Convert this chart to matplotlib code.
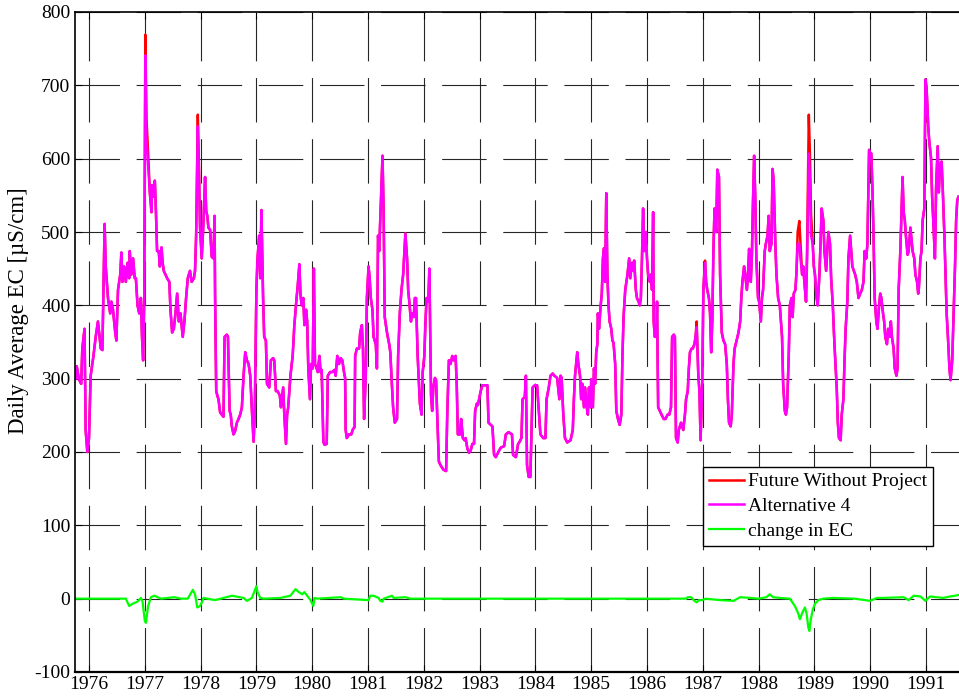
import matplotlib
matplotlib.use("Agg")
import matplotlib.pyplot as plt

# decimal years / daily average EC (Alternative 4)
alt4_dates = [
    1975.76, 1975.78, 1975.82, 1975.86, 1975.88, 1975.92, 1975.94, 1975.97, 1976.00, 1976.03,
    1976.08, 1976.12, 1976.16, 1976.19, 1976.21, 1976.24, 1976.26, 1976.28, 1976.30, 1976.34,
    1976.38, 1976.40, 1976.43, 1976.47, 1976.49, 1976.52, 1976.56, 1976.58, 1976.60, 1976.63,
    1976.66, 1976.69, 1976.72, 1976.73, 1976.76, 1976.79, 1976.82, 1976.84, 1976.87, 1976.90,
    1976.93, 1976.95, 1976.97, 1976.99, 1977.01, 1977.03, 1977.06, 1977.09, 1977.12, 1977.13,
    1977.15, 1977.18, 1977.20, 1977.22, 1977.25, 1977.27, 1977.30, 1977.32, 1977.34, 1977.37,
    1977.40, 1977.44, 1977.46, 1977.49, 1977.52, 1977.55, 1977.58, 1977.61, 1977.64, 1977.68,
    1977.71, 1977.74, 1977.77, 1977.81, 1977.84, 1977.88, 1977.90, 1977.92, 1977.95, 1977.97,
    1977.99, 1978.02, 1978.05, 1978.08, 1978.10, 1978.12, 1978.14, 1978.17, 1978.20, 1978.23,
    1978.25, 1978.26, 1978.28, 1978.30, 1978.32, 1978.35, 1978.38, 1978.41, 1978.43, 1978.47,
    1978.49, 1978.52, 1978.54, 1978.56, 1978.59, 1978.62, 1978.65, 1978.68, 1978.71, 1978.74,
    1978.77, 1978.80, 1978.83, 1978.86, 1978.89, 1978.92, 1978.95, 1978.97, 1979.00, 1979.02,
    1979.05, 1979.07, 1979.09, 1979.12, 1979.14, 1979.17, 1979.19, 1979.23, 1979.26, 1979.30,
    1979.32, 1979.35, 1979.38, 1979.42, 1979.44, 1979.48, 1979.50, 1979.53, 1979.55, 1979.57,
    1979.61, 1979.65, 1979.68, 1979.72, 1979.74, 1979.77, 1979.79, 1979.81, 1979.84, 1979.86,
    1979.89, 1979.91, 1979.93, 1979.96, 1979.98, 1980.01, 1980.03, 1980.05, 1980.08, 1980.10,
    1980.13, 1980.15, 1980.17, 1980.20, 1980.22, 1980.26, 1980.28, 1980.32, 1980.36, 1980.40,
    1980.42, 1980.45, 1980.48, 1980.51, 1980.54, 1980.57, 1980.59, 1980.60, 1980.62, 1980.66,
    1980.70, 1980.73, 1980.76, 1980.77, 1980.80, 1980.84, 1980.86, 1980.89, 1980.91, 1980.93,
    1980.96, 1980.98, 1981.01, 1981.03, 1981.05, 1981.08, 1981.10, 1981.14, 1981.16, 1981.18,
    1981.20, 1981.23, 1981.26, 1981.28, 1981.30, 1981.34, 1981.38, 1981.40, 1981.42, 1981.45,
    1981.48, 1981.52, 1981.54, 1981.57, 1981.60, 1981.63, 1981.65, 1981.67, 1981.70, 1981.72,
    1981.74, 1981.77, 1981.79, 1981.82, 1981.84, 1981.86, 1981.89, 1981.91, 1981.93, 1981.96,
    1981.98, 1982.01, 1982.03, 1982.05, 1982.08, 1982.10, 1982.13, 1982.15, 1982.17, 1982.20,
    1982.22, 1982.24, 1982.27, 1982.30, 1982.35, 1982.40, 1982.42, 1982.45, 1982.48, 1982.51,
    1982.54, 1982.57, 1982.59, 1982.61, 1982.65, 1982.67, 1982.70, 1982.73, 1982.75, 1982.78,
    1982.81, 1982.84, 1982.87, 1982.90, 1982.92, 1982.95, 1982.97, 1983.02, 1983.05, 1983.14,
    1983.16, 1983.20, 1983.23, 1983.26, 1983.29, 1983.33, 1983.35, 1983.38, 1983.44, 1983.47,
    1983.52, 1983.58, 1983.60, 1983.65, 1983.69, 1983.71, 1983.75, 1983.77, 1983.81, 1983.83,
    1983.85, 1983.88, 1983.91, 1983.95, 1983.99, 1984.03, 1984.09, 1984.14, 1984.18, 1984.20,
    1984.24, 1984.27, 1984.31, 1984.34, 1984.39, 1984.43, 1984.45, 1984.47, 1984.50, 1984.53,
    1984.57, 1984.63, 1984.67, 1984.69, 1984.71, 1984.75, 1984.77, 1984.80, 1984.82, 1984.84,
    1984.87, 1984.89, 1984.92, 1984.94, 1984.96, 1984.99, 1985.00, 1985.03, 1985.05, 1985.07,
    1985.09, 1985.11, 1985.12, 1985.14, 1985.17, 1985.19, 1985.21, 1985.23, 1985.25, 1985.27,
    1985.29, 1985.31, 1985.33, 1985.36, 1985.38, 1985.40, 1985.43, 1985.45, 1985.48, 1985.51,
    1985.54, 1985.56, 1985.58, 1985.61, 1985.63, 1985.65, 1985.68, 1985.70, 1985.73, 1985.75,
    1985.77, 1985.80, 1985.82, 1985.85, 1985.87, 1985.89, 1985.91, 1985.93, 1985.95, 1985.98,
    1986.00, 1986.02, 1986.05, 1986.07, 1986.09, 1986.11, 1986.12, 1986.14, 1986.17, 1986.18,
    1986.20, 1986.23, 1986.26, 1986.30, 1986.33, 1986.37, 1986.40, 1986.43, 1986.45, 1986.48,
    1986.50, 1986.52, 1986.55, 1986.57, 1986.61, 1986.63, 1986.65, 1986.68, 1986.70, 1986.73,
    1986.75, 1986.77, 1986.80, 1986.82, 1986.85, 1986.87, 1986.89, 1986.92, 1986.94, 1986.96,
    1986.99, 1987.01, 1987.04, 1987.06, 1987.08, 1987.11, 1987.13, 1987.15, 1987.17, 1987.19,
    1987.21, 1987.24, 1987.26, 1987.29, 1987.31, 1987.34, 1987.37, 1987.40, 1987.43, 1987.45,
    1987.47, 1987.50, 1987.52, 1987.55, 1987.57, 1987.59, 1987.62, 1987.64, 1987.67, 1987.69,
    1987.71, 1987.74, 1987.76, 1987.79, 1987.81, 1987.83, 1987.86, 1987.88, 1987.90, 1987.92,
    1987.94, 1987.96, 1987.99, 1988.01, 1988.04, 1988.06, 1988.08, 1988.11, 1988.13, 1988.16,
    1988.18, 1988.20, 1988.23, 1988.25, 1988.27, 1988.30, 1988.32, 1988.35, 1988.38, 1988.42,
    1988.44, 1988.47, 1988.49, 1988.51, 1988.54, 1988.56, 1988.59, 1988.61, 1988.63, 1988.66,
    1988.68, 1988.70, 1988.73, 1988.75, 1988.78, 1988.80, 1988.82, 1988.85, 1988.87, 1988.90,
    1988.92, 1988.94, 1988.97, 1988.99, 1989.01, 1989.04, 1989.06, 1989.09, 1989.11, 1989.13,
    1989.16, 1989.18, 1989.21, 1989.23, 1989.25, 1989.28, 1989.30, 1989.33, 1989.35, 1989.37,
    1989.40, 1989.42, 1989.44, 1989.47, 1989.49, 1989.52, 1989.54, 1989.56, 1989.59, 1989.61,
    1989.64, 1989.66, 1989.68, 1989.73, 1989.76, 1989.79, 1989.82, 1989.85, 1989.88, 1989.90,
    1989.93, 1989.95, 1989.98, 1990.00, 1990.02, 1990.04, 1990.06, 1990.08, 1990.11, 1990.13,
    1990.16, 1990.18, 1990.20, 1990.23, 1990.25, 1990.27, 1990.30, 1990.32, 1990.35, 1990.37,
    1990.39, 1990.42, 1990.44, 1990.47, 1990.49, 1990.51, 1990.54, 1990.56, 1990.58, 1990.60,
    1990.62, 1990.64, 1990.67, 1990.69, 1990.72, 1990.74, 1990.76, 1990.79, 1990.81, 1990.84,
    1990.86, 1990.87, 1990.90, 1990.92, 1990.94, 1990.97, 1990.98, 1990.99, 1991.01, 1991.04,
    1991.06, 1991.09, 1991.11, 1991.13, 1991.16, 1991.17, 1991.18, 1991.21, 1991.23, 1991.25,
    1991.28, 1991.30, 1991.33, 1991.35, 1991.37, 1991.40, 1991.42, 1991.44, 1991.47, 1991.49,
    1991.52, 1991.54, 1991.56, 1991.58,
]
alt4_ec = [
    300, 317, 299, 293, 341, 368, 230, 200, 219, 304,
    331, 357, 378, 357, 341, 339, 426, 511, 453, 410,
    389, 405, 394, 363, 352, 421, 442, 472, 432, 453,
    432, 458, 437, 474, 442, 464, 437, 437, 400, 389,
    410, 357, 325, 410, 741, 628, 591, 554, 527, 564,
    548, 570, 527, 474, 474, 453, 479, 458, 447, 442,
    437, 432, 394, 363, 368, 389, 416, 378, 389, 357,
    378, 410, 437, 447, 432, 437, 447, 495, 644, 581,
    506, 464, 511, 575, 529, 522, 506, 503, 466, 464,
    522, 410, 283, 277, 272, 254, 251, 248, 357, 360,
    357, 256, 251, 235, 224, 229, 240, 245, 251, 261,
    304, 336, 325, 320, 304, 256, 214, 251, 421, 464,
    495, 437, 530, 410, 357, 352, 293, 288, 325, 328,
    325, 283, 283, 277, 261, 288, 251, 211, 251, 261,
    304, 331, 373, 410, 426, 456, 415, 400, 410, 373,
    394, 378, 314, 272, 320, 314, 450, 320, 314, 309,
    331, 309, 312, 214, 210, 211, 304, 309, 309, 312,
    304, 331, 320, 328, 325, 309, 301, 230, 219, 224,
    224, 231, 234, 331, 341, 341, 363, 373, 341, 245,
    304, 410, 453, 437, 410, 394, 357, 347, 314, 495,
    474, 538, 604, 527, 384, 363, 347, 336, 304, 261,
    240, 245, 331, 389, 421, 442, 469, 498, 464, 421,
    405, 378, 389, 384, 410, 410, 331, 298, 266, 251,
    309, 331, 378, 410, 405, 450, 277, 256, 288, 301,
    298, 251, 187, 182, 176, 174, 251, 325, 320, 331,
    325, 331, 293, 224, 224, 245, 219, 216, 219, 205,
    199, 202, 211, 211, 256, 266, 264, 283, 291, 291,
    240, 237, 235, 196, 193, 199, 202, 206, 208, 224,
    227, 224, 196, 193, 211, 213, 219, 272, 275, 304,
    182, 166, 166, 288, 291, 291, 224, 219, 219, 272,
    288, 304, 307, 304, 301, 272, 304, 301, 251, 219,
    213, 216, 230, 272, 304, 336, 320, 304, 272, 293,
    261, 288, 261, 251, 288, 261, 299, 261, 314, 293,
    336, 347, 389, 368, 400, 416, 464, 478, 432, 553,
    442, 400, 378, 368, 352, 349, 320, 256, 245, 237,
    251, 331, 384, 421, 432, 442, 464, 437, 458, 447,
    461, 421, 410, 405, 400, 410, 464, 532, 474, 500,
    464, 442, 432, 442, 421, 527, 378, 357, 363, 405,
    261, 256, 251, 245, 245, 251, 251, 261, 357, 360,
    357, 219, 213, 230, 240, 235, 230, 251, 272, 283,
    314, 336, 341, 341, 347, 357, 370, 304, 283, 216,
    293, 421, 458, 432, 421, 410, 389, 336, 378, 474,
    532, 500, 585, 575, 442, 363, 352, 347, 320, 272,
    240, 235, 251, 320, 341, 347, 357, 363, 378, 410,
    432, 453, 442, 421, 442, 477, 432, 469, 543, 604,
    548, 464, 410, 405, 378, 410, 421, 474, 484, 495,
    522, 474, 484, 586, 570, 484, 442, 410, 400, 357,
    293, 256, 251, 261, 331, 400, 410, 384, 416, 421,
    447, 484, 484, 464, 442, 453, 432, 405, 464, 607,
    570, 495, 484, 453, 442, 410, 400, 442, 484, 532,
    516, 474, 447, 474, 500, 484, 437, 400, 363, 331,
    288, 240, 219, 216, 251, 272, 325, 368, 405, 464,
    495, 474, 453, 442, 432, 410, 416, 421, 432, 474,
    464, 484, 612, 607, 607, 559, 495, 410, 378, 368,
    400, 416, 410, 389, 378, 357, 347, 368, 357, 378,
    357, 341, 314, 304, 314, 421, 474, 527, 575, 527,
    516, 495, 469, 474, 506, 490, 474, 464, 442, 432,
    416, 421, 464, 474, 516, 532, 622, 708, 697, 644,
    622, 601, 548, 516, 464, 506, 559, 617, 554, 591,
    596, 559, 495, 442, 389, 347, 314, 298, 325, 378,
    453, 516, 543, 548,
]

# where Future Without Project sits above Alternative 4
fwop_peak_dates = [1977.01, 1977.03, 1977.06, 1977.95, 1977.97, 1986.89, 1987.04,
                   1988.70, 1988.73, 1988.75, 1988.87, 1988.90, 1988.92, 1988.94]
fwop_peak_ec = [769, 655, 607, 660, 593, 378, 461,
                500, 515, 485, 482, 660, 605, 525]

# change in EC (Alternative 4 minus Future Without Project)
change_dates = [
    1975.76, 1976.66, 1976.72, 1976.78, 1976.87, 1976.93, 1976.96, 1977.00, 1977.02, 1977.06,
    1977.11, 1977.17, 1977.29, 1977.41, 1977.53, 1977.65, 1977.77, 1977.86, 1977.90, 1977.94,
    1977.99, 1978.03, 1978.05, 1978.26, 1978.56, 1978.77, 1978.83, 1978.92, 1979.00, 1979.02,
    1979.07, 1979.13, 1979.43, 1979.61, 1979.70, 1979.76, 1979.82, 1979.86, 1979.91, 1979.97,
    1980.02, 1980.04, 1980.09, 1980.51, 1980.57, 1981.01, 1981.04, 1981.10, 1981.19, 1981.22,
    1981.26, 1981.28, 1981.43, 1981.46, 1981.67, 1981.76, 1986.70, 1986.73, 1986.79, 1986.85,
    1986.89, 1986.93, 1986.99, 1987.05, 1987.31, 1987.55, 1987.67, 1987.85, 1988.00, 1988.14,
    1988.20, 1988.26, 1988.38, 1988.56, 1988.65, 1988.71, 1988.74, 1988.79, 1988.83, 1988.86,
    1988.89, 1988.91, 1988.93, 1988.97, 1989.01, 1989.07, 1989.16, 1989.33, 1989.72, 1990.00,
    1990.12, 1990.24, 1990.60, 1990.69, 1990.78, 1990.90, 1990.99, 1991.07, 1991.19, 1991.31,
    1991.43, 1991.52, 1991.58,
]
change_ec = [
    0, 0, -10, -7, -4, 1, -4, -30, -33, -10,
    2, 4, 0, 1, 2, 0, 0, 12, 6, -12,
    -10, -4, 1, -2, 4, 1, -3, 1, 17, 9,
    1, 0, 1, 4, 13, 9, 6, 9, 4, -2,
    -10, 1, 0, 2, 0, -2, 4, 4, 1, -3,
    -4, 0, 4, 1, 2, 0, 0, 2, 2, -3,
    -5, -2, -2, 0, -2, -3, 2, 1, 0, 2,
    6, 2, 1, 0, -10, -20, -28, -18, -12, -20,
    -39, -44, -31, -15, -7, -2, 0, 1, 0, -3,
    1, 1, 2, -2, 4, 3, -3, 3, 2, 1,
    3, 4, 5,
]

year_ticks = list(range(1976, 1992))
ec_ticks = list(range(-100, 801, 100))

fwop_ec = list(alt4_ec)
for d, v in zip(fwop_peak_dates, fwop_peak_ec):
    fwop_ec[alt4_dates.index(d)] = v

plt.rcParams["font.family"] = ["Liberation Serif", "DejaVu Serif"]
plt.rcParams["lines.scale_dashes"] = False
plt.rcParams["axes.unicode_minus"] = False

fig = plt.figure(figsize=(9.59, 7.0), dpi=100)
ax = fig.add_axes([74.6 / 959, 28 / 700, 892.8 / 959, 660 / 700])

ax.plot(alt4_dates, fwop_ec, color="#ff0000", linewidth=1.8, label="Future Without Project")
ax.plot(alt4_dates, alt4_ec, color="#ff00ff", linewidth=1.8, label="Alternative 4")
ax.plot(change_dates, change_ec, color="#00ff00", linewidth=1.6, label="change in EC")

ax.set_xlim(1975.742, 1991.742)
ax.set_ylim(-100, 800)
ax.set_xticks(year_ticks)
ax.set_xticklabels([str(y) for y in year_ticks])
ax.set_yticks(ec_ticks)
ax.tick_params(direction="in", length=5, width=0.8, labelsize=14, pad=3, top=True, right=True)
ax.set_ylabel("Daily Average EC [\u00b5S/cm]", fontsize=16.5)
ax.yaxis.set_label_coords(-0.051, 0.547)

ax.grid(True, color="0.15", linewidth=0.8, linestyle=(0, (32, 12)))
ax.set_axisbelow(True)
for side in ["left", "top"]:
    ax.spines[side].set_linewidth(1.2)
ax.spines["bottom"].set_linewidth(1.6)

leg = ax.legend(loc="upper left", bbox_to_anchor=(0.704, 0.3106), borderaxespad=0,
                fontsize=14, fancybox=False, edgecolor="black", framealpha=1,
                handlelength=1.8, handletextpad=0.2, labelspacing=0.36, borderpad=0.3)
leg.get_frame().set_linewidth(1.0)

fig.savefig("out.png", dpi=100)
plt.close(fig)
